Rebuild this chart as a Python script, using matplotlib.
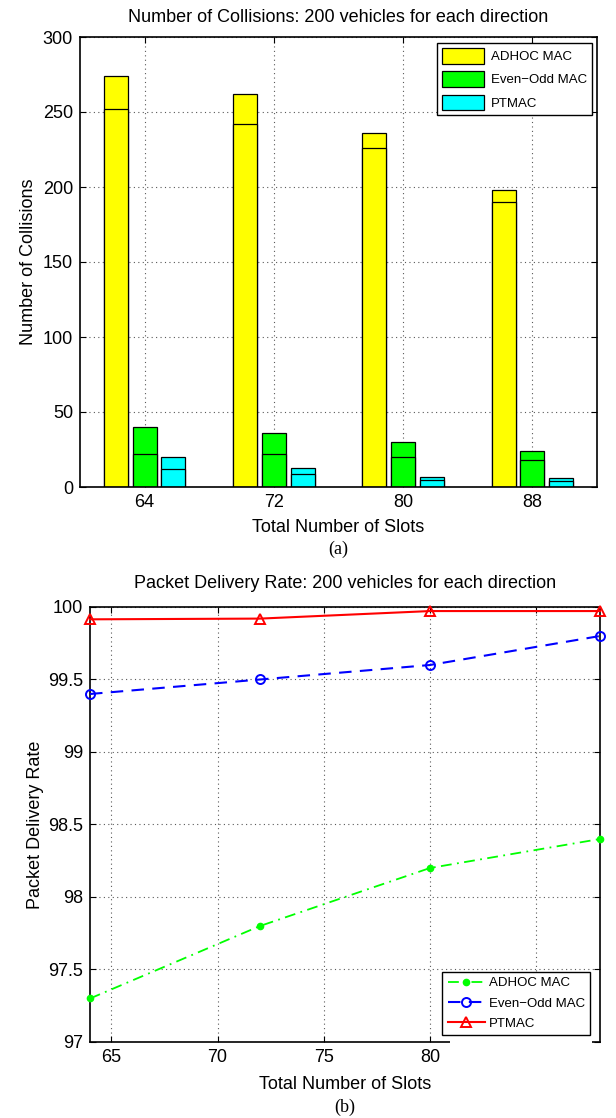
import matplotlib
matplotlib.use("Agg")
import matplotlib.pyplot as plt
from matplotlib.patches import Rectangle
import numpy as np

plt.rcParams['font.family'] = ['Liberation Sans', 'DejaVu Sans']

# ---- data ----
slots = ['64', '72', '80', '88']
series = ['ADHOC MAC', 'Even\u2212Odd MAC', 'PTMAC']
collisions_total = {
    'ADHOC MAC': [274, 262, 236, 198],
    'Even\u2212Odd MAC': [40, 36, 30, 24],
    'PTMAC': [20, 13, 7, 6],
}
collisions_inner = {
    'ADHOC MAC': [252, 242, 226, 190],
    'Even\u2212Odd MAC': [22, 22, 20, 18],
    'PTMAC': [12, 9, 5, 4],
}
slot_values = [64, 72, 80, 88]
pdr_adhoc = [97.3, 97.8, 98.2, 98.4]
pdr_evenodd = [99.4, 99.5, 99.6, 99.8]
pdr_ptmac = [99.915, 99.92, 99.972, 99.972]

bar_colors = ['#FFFF00', '#00FF00', '#00FFFF']

W, H = 616, 1118
fig = plt.figure(figsize=(W / 100, H / 100), dpi=100)

def fax(l, t, r, b):
    return fig.add_axes([l / W, 1 - b / H, (r - l) / W, (b - t) / H])

FS = 13
grid_kw = dict(color='0.35', linestyle=(0, (1, 3)), linewidth=0.8)

# ---- top: bar chart ----
ax1 = fax(80, 37, 597, 487)
x = np.arange(1, len(slots) + 1)
width = 0.186
offsets = [-0.222, 0.0, 0.222]
handles = []
for name, col, off in zip(series, bar_colors, offsets):
    h = ax1.bar(x + off, collisions_total[name], width, color=col,
                edgecolor='black', linewidth=0.9, zorder=2)
    ax1.bar(x + off, collisions_inner[name], width, color=col,
            edgecolor='black', linewidth=0.9, zorder=2)
    handles.append(h)
ax1.set_xlim(0.5, 4.5)
ax1.set_ylim(0, 300)
ax1.set_xticks(x)
ax1.set_xticklabels(slots)
ax1.set_yticks(np.arange(0, 301, 50))
ax1.grid(True, **grid_kw)
ax1.set_axisbelow(True)
ax1.set_title('Number of Collisions: 200 vehicles for each direction',
              fontsize=FS, pad=11)
ax1.set_xlabel('Total Number of Slots', fontsize=FS, labelpad=6)
ax1.set_ylabel('Number of Collisions', fontsize=FS, labelpad=4)
leg1 = ax1.legend(handles, series, loc='upper right',
                  bbox_to_anchor=(592 / W, 1 - 43 / H),
                  bbox_transform=fig.transFigure, fontsize=9.5,
                  fancybox=False, framealpha=1, edgecolor='black',
                  handlelength=3.2, handleheight=1.4, borderaxespad=0,
                  labelspacing=0.6, handletextpad=0.5)
leg1.get_frame().set_linewidth(1.0)

# ---- bottom: line chart ----
ax2 = fax(90, 607, 600, 1042)
ax2.plot(slot_values, pdr_adhoc, color='#00FF00', linestyle=(0, (6, 3, 1, 3)),
         marker='o', markersize=4.5, markerfacecolor='#00FF00',
         markeredgecolor='#00FF00', linewidth=1.3, label='ADHOC MAC',
         clip_on=False, zorder=3)
ax2.plot(slot_values, pdr_evenodd, color='blue', linestyle=(0, (6, 4)),
         marker='o', markersize=6.5, markerfacecolor='none',
         markeredgecolor='blue', markeredgewidth=1.4, linewidth=1.5,
         label='Even\u2212Odd MAC', clip_on=False, zorder=3)
ax2.plot(slot_values, pdr_ptmac, color='red', linestyle='-',
         marker='^', markersize=7.5, markerfacecolor='none',
         markeredgecolor='red', markeredgewidth=1.4, linewidth=1.5,
         label='PTMAC', clip_on=False, zorder=3)
ax2.set_xlim(64, 88)
ax2.set_ylim(97, 100)
ax2.set_xticks([65, 70, 75, 80, 85])
ax2.set_xticklabels(['65', '70', '75', '80', ''])
ax2.set_yticks([97, 97.5, 98, 98.5, 99, 99.5, 100])
ax2.set_yticklabels(['97', '97.5', '98', '98.5', '99', '99.5', '100'])
ax2.grid(True, **grid_kw)
ax2.set_axisbelow(True)
ax2.set_title('Packet Delivery Rate: 200 vehicles for each direction',
              fontsize=FS, pad=14)
ax2.set_xlabel('Total Number of Slots', fontsize=FS, labelpad=7)
ax2.set_ylabel('Packet Delivery Rate', fontsize=FS, labelpad=3)
leg2 = ax2.legend(loc='lower right', bbox_to_anchor=(590 / W, 1 - 1035 / H),
                  bbox_transform=fig.transFigure, fontsize=9.5,
                  fancybox=False, framealpha=1, edgecolor='black',
                  handlelength=2.8, borderaxespad=0, labelspacing=0.6,
                  handletextpad=0.3)
leg2.get_frame().set_linewidth(1.0)
leg2.set_zorder(10)

# white strip covering the bottom spine under the legend (as in reference)
ax2.add_patch(Rectangle((450 / W, 1 - 1046 / H), (592 - 450) / W, 11 / H,
                        transform=fig.transFigure, facecolor='white',
                        edgecolor='none', clip_on=False, zorder=9))

for ax in (ax1, ax2):
    ax.tick_params(direction='in', top=True, right=True, length=4,
                   width=0.8, labelsize=FS, pad=5)
    for s in ax.spines.values():
        s.set_linewidth(1.2)

fig.text(338 / W, 1 - 549 / H, '(a)', ha='center', va='center',
         fontsize=13, family='Liberation Serif')
fig.text(345 / W, 1 - 1107 / H, '(b)', ha='center', va='center',
         fontsize=13, family='Liberation Serif')

fig.savefig('out.png', dpi=100)
